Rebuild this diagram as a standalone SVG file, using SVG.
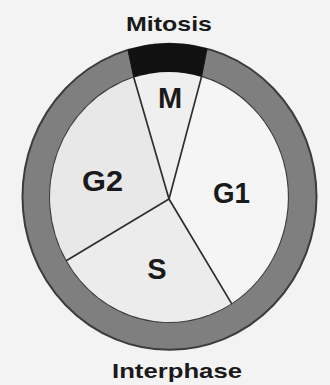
<svg xmlns="http://www.w3.org/2000/svg" width="330" height="385" viewBox="0 0 330 385">
  <style>
    .lbl { font-family: "Liberation Sans", Arial, Helvetica, sans-serif; font-weight: bold; fill: #1a1a1a; text-anchor: middle; }
    .big { font-size: 29px; }
    .title { font-size: 21px; }
    .spoke { stroke: #2e2e2e; stroke-width: 1.7; fill: none; stroke-linecap: round; }
  </style>
  <rect x="0" y="0" width="330" height="385" fill="#f3f3f3"/>

  <g id="ring">
    <path d="M22.5,196.75 A147,153 0 1 0 316.5,196.75 A147,153 0 1 0 22.5,196.75 Z M50,197 A119,125 0 1 0 288,197 A119,125 0 1 0 50,197 Z" fill="#7f7f7f" fill-rule="evenodd" stroke="#3c3c3c" stroke-width="2"/>
  </g>

  <g id="mitosis-arc">
    <path d="M128,50 A147,153 0 0 1 207,48.8 L201.5,76.9 A119,125 0 0 0 133.8,77.6 Z" fill="#111111" stroke="#111111" stroke-width="1"/>
  </g>

  <g id="phase-M">
    <path d="M169,199 L133.8,77.6 A119,125 0 0 1 201.5,76.9 Z" fill="#efefef"/>
    <text class="lbl big" x="170" y="108">M</text>
  </g>
  <g id="phase-G1">
    <path d="M169,199 L201.5,76.9 A119,125 0 0 1 231.5,303.4 Z" fill="#f5f5f5"/>
    <text class="lbl big" x="231.5" y="203" textLength="37" lengthAdjust="spacingAndGlyphs">G1</text>
  </g>
  <g id="phase-S">
    <path d="M169,199 L231.5,303.4 A119,125 0 0 1 66.6,260.6 Z" fill="#ececec"/>
    <text class="lbl big" x="157" y="279">S</text>
  </g>
  <g id="phase-G2">
    <path d="M169,199 L66.6,260.6 A119,125 0 0 1 133.8,77.6 Z" fill="#e8e8e8"/>
    <text class="lbl big" x="102.5" y="191" textLength="41" lengthAdjust="spacingAndGlyphs">G2</text>
  </g>

  <g id="connectors">
    <line class="spoke" x1="169" y1="199" x2="133.8" y2="77.6"/>
    <line class="spoke" x1="169" y1="199" x2="201.5" y2="76.9"/>
    <line class="spoke" x1="169" y1="199" x2="231.5" y2="303.4"/>
    <line class="spoke" x1="169" y1="199" x2="66.6" y2="260.6"/>
  </g>

  <g id="label-mitosis">
    <text class="lbl title" x="169" y="31" textLength="86" lengthAdjust="spacingAndGlyphs">Mitosis</text>
  </g>
  <g id="label-interphase">
    <text class="lbl title" x="177" y="378" textLength="130" lengthAdjust="spacingAndGlyphs">Interphase</text>
  </g>
</svg>
